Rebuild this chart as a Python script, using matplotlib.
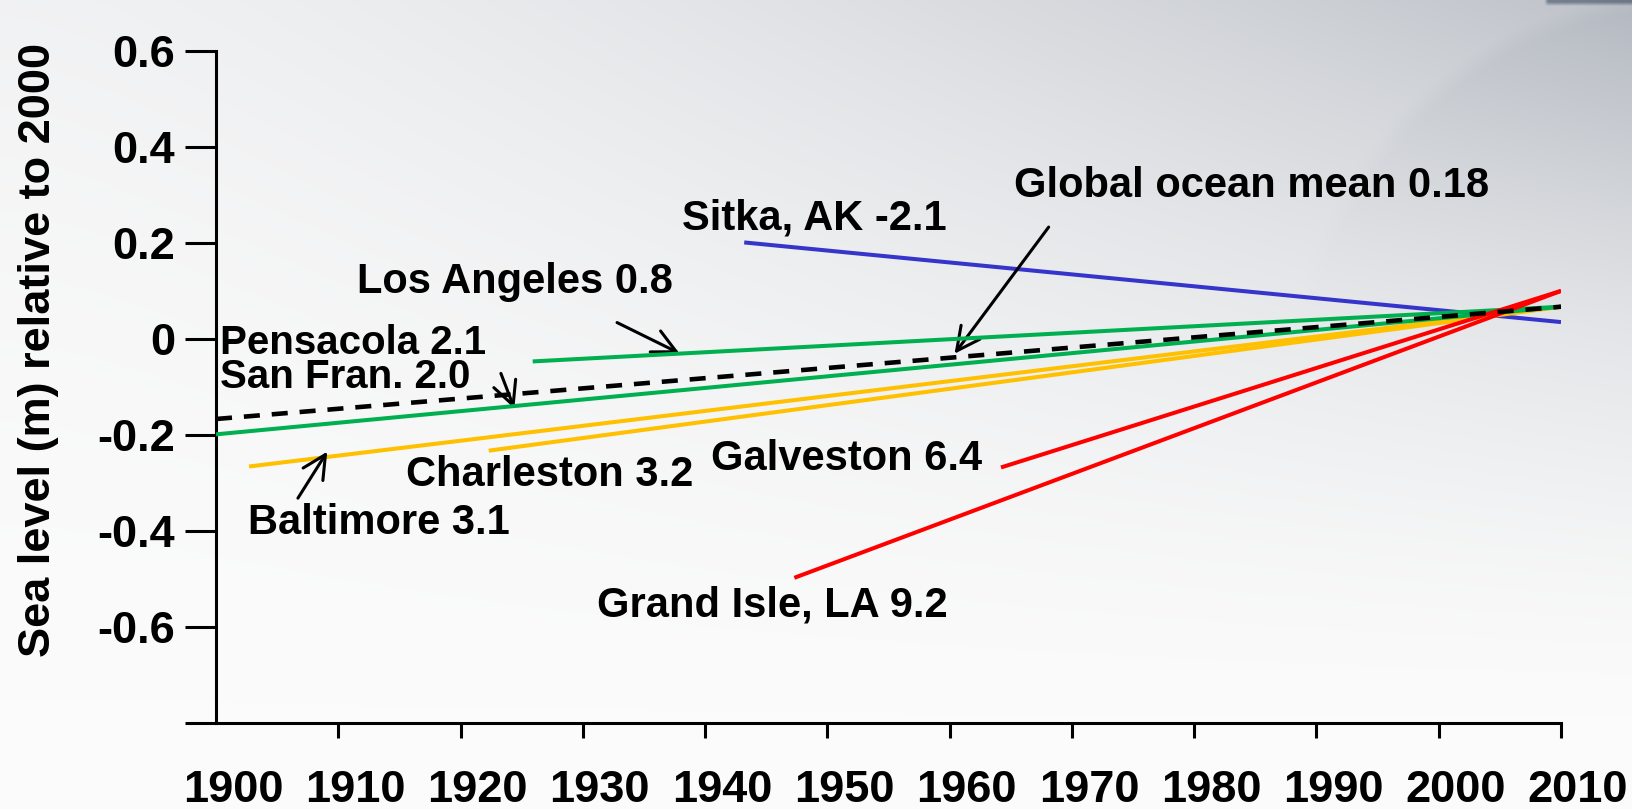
import numpy as np
import matplotlib.pyplot as plt
from matplotlib.transforms import ScaledTranslation

plt.rcParams['font.family'] = ['Liberation Sans', 'DejaVu Sans']
plt.rcParams['font.weight'] = 'bold'

# trend lines, sea level (m) relative to 2000
stations = ["Sitka", "Los Angeles", "Pensacola", "Global mean",
            "Baltimore", "Charleston", "Galveston", "Grand Isle"]
start_year = [1943.2, 1925.9, 1900.0, 1900.0, 1902.7, 1922.3, 1964.2, 1947.3]
start_level = [0.201, -0.047, -0.199, -0.167, -0.266, -0.233, -0.268, -0.498]
end_year = [2010, 2010, 2010, 2010, 2010, 2010, 2010, 2010]
end_level = [0.035, 0.067, 0.067, 0.067, 0.067, 0.067, 0.100, 0.100]

years = list(range(1900, 2011, 10))
year_labels = [str(y) for y in years]
levels = [-0.8, -0.6, -0.4, -0.2, 0, 0.2, 0.4, 0.6]
level_labels = ["", "-0.6", "-0.4", "-0.2", "0", "0.2", "0.4", "0.6"]

colors = {"Sitka": "#3535cc", "Los Angeles": "#00b050", "Pensacola": "#00b050",
          "Global mean": "black", "Baltimore": "#ffc000", "Charleston": "#ffc000",
          "Galveston": "#ff0000", "Grand Isle": "#ff0000"}
order = {"Sitka": 2, "Baltimore": 3, "Charleston": 3, "Los Angeles": 4,
         "Pensacola": 4, "Galveston": 5, "Grand Isle": 5, "Global mean": 6}

W, H = 1632, 809
fig = plt.figure(figsize=(W / 100, H / 100), dpi=100)

# slide background: grey towards the top right
gx, gy = np.meshgrid(np.linspace(0, 1, 400), np.linspace(0, 1, 200))
dark = 0.04 * (1 - gy) ** 2 + 0.20 * gx ** 1.5 * np.clip(1 - gy / 0.9, 0, 1) ** 1.5
px, py = gx * W, gy * H
r = np.hypot(px - 1700, py - 400)
dark += 0.04 * np.clip((415 - r) / 20, 0, 1) * np.clip(1 - gy / 0.4, 0, 1)
dark += 0.3 * ((py < 4) & (px > 1550))
img = np.dstack([1 - dark, 1 - dark * 0.93, 1 - dark * 0.82])
img = np.clip(img - 0.015, 0, 1)
bg = fig.add_axes([0, 0, 1, 1], zorder=-10)
bg.imshow(img, aspect='auto', extent=[0, 1, 0, 1], origin='upper', interpolation='bilinear')
bg.axis('off')

ax = fig.add_axes([216 / W, 1 - 722.7 / H, 1345 / W, 671.7 / H])
ax.patch.set_alpha(0)

for i, name in enumerate(stations):
    if name == "Global mean":
        ax.plot([start_year[i], end_year[i]], [start_level[i], end_level[i]],
                color=colors[name], lw=3.3, dashes=(3.5, 2.6), zorder=order[name])
    else:
        ax.plot([start_year[i], end_year[i]], [start_level[i], end_level[i]],
                color=colors[name], lw=2.9, solid_capstyle='butt', zorder=order[name])

# labels
fs = 30
ax.text(1965.3, 0.296, "Global ocean mean 0.18", fontsize=fs, va='baseline')
ax.text(1938.1, 0.229, "Sitka, AK -2.1", fontsize=fs, va='baseline')
ax.text(1911.5, 0.096, "Los Angeles 0.8", fontsize=fs, va='baseline')
ax.text(1900.3, -0.031, "Pensacola 2.1", fontsize=29, va='baseline')
ax.text(1900.3, -0.103, "San Fran. 2.0", fontsize=29, va='baseline')
ax.text(1915.5, -0.307, "Charleston 3.2", fontsize=fs, va='baseline')
ax.text(1940.5, -0.273, "Galveston 6.4", fontsize=fs, va='baseline')
ax.text(1902.6, -0.407, "Baltimore 3.1", fontsize=fs, va='baseline')
ax.text(1931.2, -0.578, "Grand Isle, LA 9.2", fontsize=fs, va='baseline')

# arrows
arr = dict(arrowstyle='->,head_length=0.7,head_width=0.35', lw=2.2, color='black',
           shrinkA=0, shrinkB=0, mutation_scale=24)
ax.annotate('', xy=(1937.9, -0.030), xytext=(1932.8, 0.034), arrowprops=arr)
ax.annotate('', xy=(1960.4, -0.031), xytext=(1968.1, 0.233), arrowprops=arr)
ax.annotate('', xy=(1924.4, -0.145), xytext=(1923.3, -0.072), arrowprops=arr)
ax.annotate('', xy=(1909.1, -0.235), xytext=(1906.7, -0.332), arrowprops=arr)

ax.set_xlim(1900, 2010)
ax.set_ylim(-0.8, 0.6)
for s in ['top', 'right']:
    ax.spines[s].set_visible(False)
for s in ['left', 'bottom']:
    ax.spines[s].set_linewidth(2.2)

ax.set_yticks(levels)
ax.set_yticklabels(level_labels, fontsize=32.5, fontweight='bold')
ax.tick_params(axis='y', length=22.3, width=2.2, pad=7)
ax.set_xticks(years)
ax.set_xticklabels(year_labels, fontsize=32.5, fontweight='bold')
ax.tick_params(axis='x', length=10.8, width=2.2, pad=23)
ax.xaxis.get_major_ticks()[0].tick1line.set_visible(False)
offset = ScaledTranslation(0.17, 0, fig.dpi_scale_trans)
for lbl in ax.get_xticklabels():
    lbl.set_transform(lbl.get_transform() + offset)

ax.set_ylabel("Sea level (m) relative to 2000", fontsize=32.5, fontweight='bold')
ax.yaxis.set_label_coords(-0.117, 0.555)

fig.savefig("out.png", dpi=100)
